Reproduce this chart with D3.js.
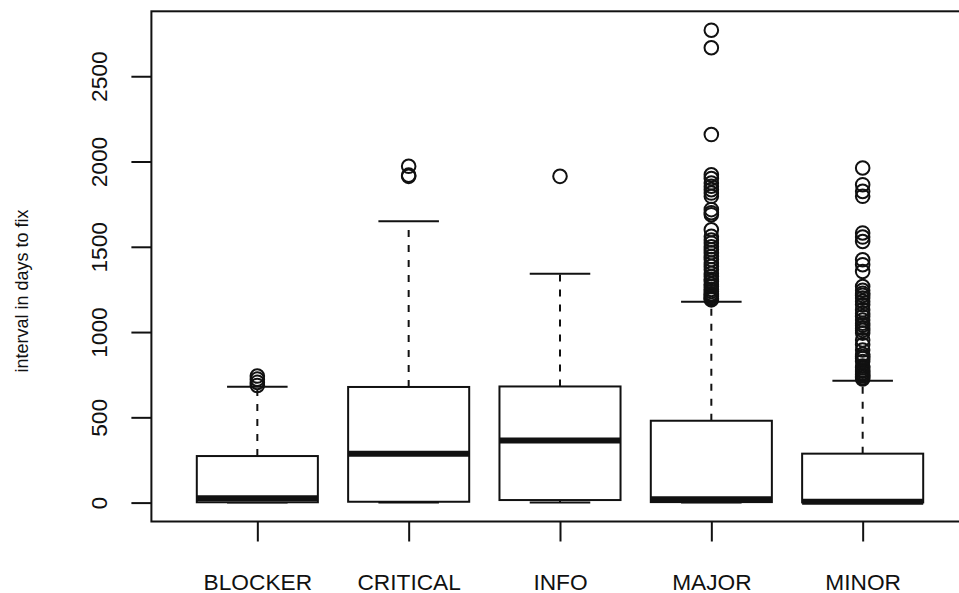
<!DOCTYPE html>
<html>
<head>
<meta charset="utf-8">
<script src="https://cdn.jsdelivr.net/npm/d3@7"></script>
<style>
  body { margin: 0; background: #fff; }
  svg { display: block; font-family: "Liberation Sans", Arial, Helvetica, sans-serif; }
</style>
</head>
<body>
<svg id="chart"></svg>
<script>
// box statistics (days)
const categories = ["BLOCKER", "CRITICAL", "INFO", "MAJOR", "MINOR"];
const whiskerLow = [0, 0, 0, 0, 0];
const lowerQuartile = [2, 5, 15, 3, 1];
const medians = [25, 286, 364, 19, 5];
const upperQuartile = [273, 678, 681, 480, 287];
const whiskerHigh = [680, 1650, 1342, 1177, 715];

// outliers per category
const blockerOutliers = [687, 705, 724, 742];
const criticalOutliers = [1913, 1920, 1972];
const infoOutliers = [1913];
const majorOutliers = [1189, 1195, 1200, 1209, 1218, 1225, 1238, 1250, 1267, 1280, 1297, 1310, 1326,
  1345, 1365, 1385, 1405, 1425, 1443, 1465, 1483, 1500, 1522, 1540, 1561, 1600, 1688, 1700, 1718,
  1796, 1815, 1835, 1855, 1874, 1900, 1922, 2158, 2667, 2770];
const minorOutliers = [725, 733, 742, 750, 760, 770, 778, 790, 800, 827, 845, 856, 870, 895, 925,
  954, 994, 1010, 1023, 1040, 1052, 1070, 1091, 1110, 1130, 1160, 1180, 1199, 1215, 1228, 1245,
  1267, 1355, 1395, 1424, 1531, 1557, 1581, 1796, 1825, 1864, 1962];
const outliers = [blockerOutliers, criticalOutliers, infoOutliers, majorOutliers, minorOutliers];

const yTicks = [0, 500, 1000, 1500, 2000, 2500];
const yTitle = "interval in days to fix";

const width = 959, height = 593;
const svg = d3.select("#chart").attr("width", width).attr("height", height);

const boxes = categories.map((c, i) => ({
  name: c, pos: i + 1,
  lo: whiskerLow[i], q1: lowerQuartile[i], med: medians[i],
  q3: upperQuartile[i], hi: whiskerHigh[i], out: outliers[i]
}));

// R style ranges: extended by 4%
const yMax = d3.max(outliers.flat().concat(whiskerHigh));
const pad = 0.04 * yMax;
const x = d3.scaleLinear().domain([0.3, 5.7]).range([151.4, 968.6]);
const y = d3.scaleLinear().domain([-pad, yMax + pad]).range([521.5, 11.3]);

const ink = "#111";
const boxHalf = 0.4, capHalf = 0.2;

const g = svg.selectAll(".box")
  .data(boxes)
  .enter()
  .append("g")
  .attr("class", "box");

// whiskers (dashed)
g.append("line")
  .attr("x1", d => x(d.pos)).attr("x2", d => x(d.pos))
  .attr("y1", d => y(d.q3)).attr("y2", d => y(d.hi))
  .attr("stroke", ink).attr("stroke-width", 2).attr("stroke-dasharray", "7,8");
g.append("line")
  .attr("x1", d => x(d.pos)).attr("x2", d => x(d.pos))
  .attr("y1", d => y(d.q1)).attr("y2", d => y(d.lo))
  .attr("stroke", ink).attr("stroke-width", 2).attr("stroke-dasharray", "7,8");

// caps
g.append("line")
  .attr("x1", d => x(d.pos - capHalf)).attr("x2", d => x(d.pos + capHalf))
  .attr("y1", d => y(d.hi)).attr("y2", d => y(d.hi))
  .attr("stroke", ink).attr("stroke-width", 2);
g.append("line")
  .attr("x1", d => x(d.pos - capHalf)).attr("x2", d => x(d.pos + capHalf))
  .attr("y1", d => y(d.lo)).attr("y2", d => y(d.lo))
  .attr("stroke", ink).attr("stroke-width", 2);

// box
g.append("rect")
  .attr("x", d => x(d.pos - boxHalf))
  .attr("width", d => x(d.pos + boxHalf) - x(d.pos - boxHalf))
  .attr("y", d => y(d.q3))
  .attr("height", d => y(d.q1) - y(d.q3))
  .attr("fill", "#fff").attr("stroke", ink).attr("stroke-width", 2);

// median
g.append("line")
  .attr("x1", d => x(d.pos - boxHalf)).attr("x2", d => x(d.pos + boxHalf))
  .attr("y1", d => y(d.med)).attr("y2", d => y(d.med))
  .attr("stroke", ink).attr("stroke-width", 6);

// outliers
g.selectAll("circle")
  .data(d => d.out.map(v => ({ pos: d.pos, v: v })))
  .enter()
  .append("circle")
  .attr("cx", d => x(d.pos))
  .attr("cy", d => y(d.v))
  .attr("r", 6.8)
  .attr("fill", "none").attr("stroke", ink).attr("stroke-width", 2);

// frame
svg.append("rect")
  .attr("x", x(0.3)).attr("y", y(yMax + pad))
  .attr("width", x(5.7) - x(0.3))
  .attr("height", y(-pad) - y(yMax + pad))
  .attr("fill", "none").attr("stroke", ink).attr("stroke-width", 2);

// y axis
const yAxis = svg.append("g")
  .attr("transform", `translate(${x(0.3)},0)`)
  .call(d3.axisLeft(y).tickValues(yTicks).tickSize(20).tickFormat(d3.format("d")));
yAxis.select(".domain").remove();
yAxis.selectAll(".tick line").attr("stroke", ink).attr("stroke-width", 2);
yAxis.selectAll(".tick text")
  .attr("x", null).attr("dy", null)
  .attr("text-anchor", "middle")
  .attr("transform", "translate(-44.7,0) rotate(-90)")
  .attr("font-size", 22.7)
  .attr("font-family", "Liberation Sans, Arial, Helvetica, sans-serif")
  .attr("fill", ink);

// x axis
const xAxis = svg.append("g")
  .attr("transform", `translate(0,${y(-pad)})`)
  .call(d3.axisBottom(x).tickValues(boxes.map(d => d.pos)).tickSize(20)
    .tickFormat(p => categories[p - 1]));
xAxis.select(".domain").remove();
xAxis.selectAll(".tick line").attr("stroke", ink).attr("stroke-width", 2);
xAxis.selectAll(".tick text")
  .attr("y", 68).attr("dy", null)
  .attr("font-size", 22.7)
  .attr("font-family", "Liberation Sans, Arial, Helvetica, sans-serif")
  .attr("fill", ink);

// y title
svg.append("text")
  .attr("transform", "translate(28,291) rotate(-90)")
  .attr("text-anchor", "middle")
  .attr("font-size", 18)
  .attr("fill", ink)
  .text(yTitle);
</script>
</body>
</html>
